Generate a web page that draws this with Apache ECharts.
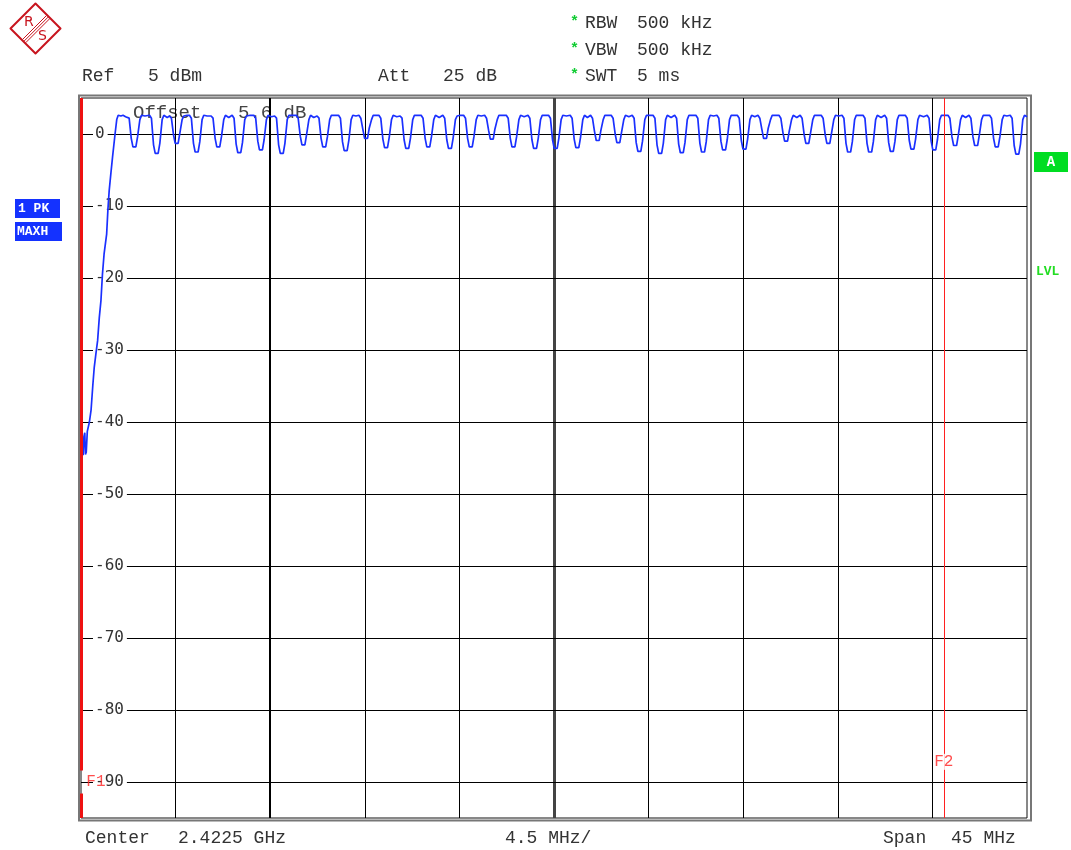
<!DOCTYPE html>
<html><head><meta charset="utf-8">
<script src="https://cdn.jsdelivr.net/npm/echarts@6.0.0/dist/echarts.min.js"></script>
<style>html,body{margin:0;padding:0;background:#fff}#c{width:1071px;height:850px}</style>
</head><body><div id="c"></div>
<script>
// ---- axis ranges & ticks (offset from 2.4000 GHz, MHz / dBm) ----
const xMinMHz = 0, xMaxMHz = 45;
const xGridTicks = [4.5, 9, 13.5, 18, 22.5, 27, 31.5, 36, 40.5];
const yMinDb = -95, yMaxDb = 5;
const yTicks = [-90, -80, -70, -60, -50, -40, -30, -20, -10, 0];
const markerF1 = 0;
const markerF2 = 41.04;
const labelF1 = [0.71, -90];
const labelF2 = [41.04, -87.2];
const f1LabelGap = [-91.6, -88.4];

// ---- trace 1 (PK, MAXH): rising band edge ----
const risingEdge = [
  [0.02,-41.2],[0.06,-43.8],[0.10,-44.6],[0.14,-42.0],[0.18,-41.5],[0.21,-44.5],[0.25,-44.2],
  [0.30,-41.3],[0.40,-40.0],[0.48,-38.3],[0.56,-35.0],[0.63,-32.4],[0.71,-30.5],[0.79,-28.7],
  [0.87,-25.5],[0.95,-23.1],[1.02,-19.5],[1.10,-16.6],[1.22,-13.9],[1.28,-10.5],[1.34,-7.9],
  [1.42,-5.5],[1.50,-3.2],[1.62,0.0],[1.70,2.0],[1.77,2.6],[1.90,2.5],[2.00,2.6],[2.12,2.4]
];
// ---- trace 1: hopping-channel comb (one notch per MHz) ----
const channelComb = [
  [2.20,2.6],[2.29,2.2],[2.39,-0.6],[2.47,-1.8],[2.61,-1.8],[2.69,-0.4],[2.80,2.0],[2.88,2.6],[3.04,2.5],
  [3.26,2.6],[3.35,2.2],[3.45,-1.5],[3.53,-2.7],[3.67,-2.7],[3.75,-1.3],[3.86,2.0],[3.94,2.6],[4.10,2.3],
  [4.21,2.5],[4.30,2.2],[4.40,-0.1],[4.48,-1.3],[4.62,-1.3],[4.70,0.1],[4.81,2.0],[4.89,2.5],[5.05,2.6],
  [5.16,2.6],[5.25,2.2],[5.35,-1.3],[5.43,-2.5],[5.57,-2.5],[5.65,-1.1],[5.76,2.0],[5.84,2.6],[6.00,2.5],
  [6.19,2.5],[6.28,2.2],[6.38,-0.6],[6.46,-1.8],[6.60,-1.8],[6.68,-0.4],[6.79,2.0],[6.87,2.6],[7.03,2.3],
  [7.19,2.6],[7.28,2.2],[7.38,-1.4],[7.46,-2.6],[7.60,-2.6],[7.68,-1.2],[7.79,2.0],[7.87,2.5],[8.05,2.6],
  [8.22,2.6],[8.31,2.2],[8.41,-1.0],[8.49,-2.2],[8.63,-2.2],[8.71,-0.8],[8.82,2.0],[8.90,2.6],[9.06,2.4],
  [9.21,2.5],[9.30,2.2],[9.40,-1.5],[9.48,-2.7],[9.62,-2.7],[9.70,-1.3],[9.81,2.0],[9.89,2.6],[10.05,2.6],
  [10.24,2.6],[10.33,2.2],[10.43,-0.3],[10.51,-1.5],[10.65,-1.5],[10.73,-0.1],[10.84,2.0],[10.92,2.6],[11.07,2.3],
  [11.23,2.5],[11.32,2.2],[11.42,-0.6],[11.50,-1.8],[11.64,-1.8],[11.72,-0.4],[11.83,2.0],[11.91,2.6],[12.08,2.6],
  [12.25,2.6],[12.34,2.2],[12.44,-1.1],[12.52,-2.3],[12.66,-2.3],[12.74,-0.9],[12.85,2.0],[12.93,2.6],[13.08,2.5],
  [13.22,2.6],[13.31,2.2],[13.41,0.6],[13.49,-0.6],[13.63,-0.6],[13.71,0.8],[13.82,2.0],[13.90,2.6],[14.05,2.6],
  [14.17,2.6],[14.26,2.2],[14.36,-0.7],[14.44,-1.9],[14.58,-1.9],[14.66,-0.5],[14.77,2.0],[14.85,2.6],[15.02,2.4],
  [15.18,2.5],[15.27,2.2],[15.37,-0.8],[15.45,-2.0],[15.59,-2.0],[15.67,-0.6],[15.78,2.0],[15.86,2.6],[16.02,2.6],
  [16.18,2.6],[16.27,2.2],[16.37,-0.6],[16.45,-1.8],[16.59,-1.8],[16.67,-0.4],[16.78,2.0],[16.86,2.6],[17.04,2.3],
  [17.21,2.6],[17.30,2.2],[17.40,-0.8],[17.48,-2.0],[17.62,-2.0],[17.70,-0.6],[17.81,2.0],[17.89,2.5],[18.04,2.6],
  [18.20,2.6],[18.29,2.2],[18.39,-0.6],[18.47,-1.8],[18.61,-1.8],[18.69,-0.4],[18.80,2.0],[18.88,2.6],[19.04,2.5],
  [19.20,2.6],[19.29,2.2],[19.39,0.5],[19.47,-0.7],[19.61,-0.7],[19.69,0.7],[19.80,2.0],[19.88,2.6],[20.06,2.6],
  [20.23,2.6],[20.32,2.2],[20.42,-0.6],[20.50,-1.8],[20.64,-1.8],[20.72,-0.4],[20.83,2.0],[20.91,2.6],[21.08,2.4],
  [21.26,2.6],[21.35,2.2],[21.45,-0.8],[21.53,-2.0],[21.67,-2.0],[21.75,-0.6],[21.86,2.0],[21.94,2.6],[22.09,2.6],
  [22.24,2.6],[22.33,2.2],[22.43,-0.8],[22.51,-2.0],[22.65,-2.0],[22.73,-0.6],[22.84,2.0],[22.92,2.6],[23.09,2.5],
  [23.27,2.6],[23.36,2.2],[23.46,-0.7],[23.54,-1.9],[23.68,-1.9],[23.76,-0.5],[23.87,2.0],[23.95,2.6],[24.09,2.3],
  [24.24,2.6],[24.33,2.2],[24.43,0.3],[24.51,-0.9],[24.65,-0.9],[24.73,0.5],[24.84,2.0],[24.92,2.6],[25.07,2.6],
  [25.22,2.6],[25.31,2.2],[25.41,0.0],[25.49,-1.2],[25.63,-1.2],[25.71,0.2],[25.82,2.0],[25.90,2.6],[26.06,2.4],
  [26.22,2.6],[26.31,2.2],[26.41,-1.2],[26.49,-2.4],[26.63,-2.4],[26.71,-1.0],[26.82,2.0],[26.90,2.6],[27.06,2.6],
  [27.21,2.6],[27.30,2.2],[27.40,-1.5],[27.48,-2.7],[27.62,-2.7],[27.70,-1.3],[27.81,2.0],[27.89,2.6],[28.07,2.3],
  [28.24,2.6],[28.33,2.2],[28.43,-1.4],[28.51,-2.6],[28.65,-2.6],[28.73,-1.2],[28.84,2.0],[28.92,2.6],[29.09,2.6],
  [29.25,2.6],[29.34,2.2],[29.44,-1.3],[29.52,-2.5],[29.66,-2.5],[29.74,-1.1],[29.85,2.0],[29.93,2.6],[30.09,2.5],
  [30.25,2.6],[30.34,2.2],[30.44,-1.0],[30.52,-2.2],[30.66,-2.2],[30.74,-0.8],[30.85,2.0],[30.93,2.6],[31.07,2.6],
  [31.22,2.6],[31.31,2.2],[31.41,-0.9],[31.49,-2.1],[31.63,-2.1],[31.71,-0.7],[31.82,2.0],[31.90,2.6],[32.05,2.4],
  [32.20,2.6],[32.29,2.2],[32.39,0.6],[32.47,-0.6],[32.61,-0.6],[32.69,0.8],[32.80,2.0],[32.88,2.6],[33.04,2.6],
  [33.20,2.6],[33.29,2.2],[33.39,0.2],[33.47,-1.0],[33.61,-1.0],[33.69,0.4],[33.80,2.0],[33.88,2.6],[34.05,2.3],
  [34.21,2.6],[34.30,2.2],[34.40,-0.1],[34.48,-1.3],[34.62,-1.3],[34.70,0.1],[34.81,2.0],[34.89,2.6],[35.05,2.6],
  [35.21,2.6],[35.30,2.2],[35.40,-0.1],[35.48,-1.3],[35.62,-1.3],[35.70,0.1],[35.81,2.0],[35.89,2.6],[36.04,2.5],
  [36.20,2.6],[36.29,2.2],[36.39,-1.3],[36.47,-2.5],[36.61,-2.5],[36.69,-1.1],[36.80,2.0],[36.88,2.6],[37.04,2.6],
  [37.20,2.6],[37.29,2.2],[37.39,-1.3],[37.47,-2.5],[37.61,-2.5],[37.69,-1.1],[37.80,2.0],[37.88,2.6],[38.06,2.3],
  [38.23,2.6],[38.32,2.2],[38.42,-1.2],[38.50,-2.4],[38.64,-2.4],[38.72,-1.0],[38.83,2.0],[38.91,2.6],[39.06,2.6],
  [39.21,2.6],[39.30,2.2],[39.40,-0.9],[39.48,-2.1],[39.62,-2.1],[39.70,-0.7],[39.81,2.0],[39.89,2.6],[40.08,2.4],
  [40.25,2.6],[40.34,2.2],[40.44,-1.0],[40.52,-2.2],[40.66,-2.2],[40.74,-0.8],[40.85,2.0],[40.93,2.6],[41.08,2.6],
  [41.24,2.6],[41.33,2.2],[41.43,-0.4],[41.51,-1.6],[41.65,-1.6],[41.73,-0.2],[41.84,2.0],[41.92,2.6],[42.08,2.3],
  [42.24,2.6],[42.33,2.2],[42.43,-0.4],[42.51,-1.6],[42.65,-1.6],[42.73,-0.2],[42.84,2.0],[42.92,2.6],[43.06,2.6],
  [43.22,2.6],[43.31,2.2],[43.41,-0.6],[43.49,-1.8],[43.63,-1.8],[43.71,-0.4],[43.82,2.0],[43.90,2.6],[44.04,2.5],
  [44.20,2.6],[44.29,2.2],[44.39,-1.6],[44.47,-2.8],[44.61,-2.8],[44.69,-1.4],[44.80,2.0],[44.88,2.6],[45.00,2.4]
];

// ---- header / footer texts ----
const headerRef = ['Ref', '5 dBm'];
const headerAtt = ['Att', '25 dB'];
const bwLines = [['RBW', '500 kHz'], ['VBW', '500 kHz'], ['SWT', '5 ms']];
const offsetText = ['Offset', '5.6 dB'];
const footerCenter = ['Center', '2.4225 GHz'];
const footerDiv = '4.5 MHz/';
const footerSpan = ['Span', '45 MHz'];

const MONO = "'Liberation Mono', 'DejaVu Sans Mono', monospace";
const TXT = '#333';
function t(x, y, s, extra) {
  return Object.assign({ type: 'text', x: x, y: y, silent: true,
    style: Object.assign({ text: s, fill: TXT, font: '18px ' + MONO, textVerticalAlign: 'middle', textAlign: 'left' }, extra || {}) });
}
const RS_RED = '#c8141e';
const graphics = [
  // R&S logo
  { type: 'polygon', silent: true, shape: { points: [[35.5,3.5],[60.5,28.5],[35.5,53.5],[10.5,28.5]] },
    style: { fill: 'none', stroke: RS_RED, lineWidth: 2, lineJoin: 'round' } },
  { type: 'line', silent: true, shape: { x1: 46.5, y1: 15.5, x2: 22.5, y2: 39.5 }, style: { stroke: RS_RED, lineWidth: 1 } },
  { type: 'line', silent: true, shape: { x1: 48.1, y1: 17.1, x2: 24.1, y2: 41.1 }, style: { stroke: RS_RED, lineWidth: 1 } },
  { type: 'line', silent: true, shape: { x1: 49.7, y1: 18.7, x2: 25.7, y2: 42.7 }, style: { stroke: RS_RED, lineWidth: 1 } },
  t(24, 22, 'R', { fill: RS_RED, font: '14px "DejaVu Sans"' }),
  t(38, 36, 'S', { fill: RS_RED, font: '14px "DejaVu Sans"' }),
  // header
  t(82, 76, headerRef[0]), t(148, 76, headerRef[1]),
  t(378, 76, headerAtt[0]), t(443, 76, headerAtt[1]),
  t(570, 22, '*', { fill: '#11cc33', font: 'bold 15px ' + MONO }), t(585, 23, bwLines[0][0]), t(637, 23, bwLines[0][1]),
  t(570, 49, '*', { fill: '#11cc33', font: 'bold 15px ' + MONO }), t(585, 50, bwLines[1][0]), t(637, 50, bwLines[1][1]),
  t(570, 75, '*', { fill: '#11cc33', font: 'bold 15px ' + MONO }), t(585, 76, bwLines[2][0]), t(637, 76, bwLines[2][1]),
  // footer
  t(85, 838, footerCenter[0]), t(178, 838, footerCenter[1]),
  t(505, 838, footerDiv),
  t(883, 838, footerSpan[0]), t(951, 838, footerSpan[1]),
  // offset text in the plot
  t(133, 113, offsetText[0], { fill: '#444', font: '19px ' + MONO }),
  t(238, 113, offsetText[1], { fill: '#444', font: '19px ' + MONO }),
  // trace info boxes
  { type: 'rect', silent: true, shape: { x: 15, y: 199, width: 45, height: 19 }, style: { fill: '#1432ff' } },
  t(18, 209, '1 PK', { fill: '#fff', font: 'bold 13px ' + MONO }),
  { type: 'rect', silent: true, shape: { x: 15, y: 222, width: 47, height: 19 }, style: { fill: '#1432ff' } },
  t(17, 232, 'MAXH', { fill: '#fff', font: 'bold 13px ' + MONO }),
  { type: 'rect', silent: true, shape: { x: 1034, y: 152, width: 34, height: 20 }, style: { fill: '#00dd22' } },
  t(1051, 162, 'A', { fill: '#fff', font: 'bold 14px ' + MONO, textAlign: 'center' }),
  t(1036, 272, 'LVL', { fill: '#22dd22', font: 'bold 13px ' + MONO }),
  // outer frame
  { type: 'rect', silent: true, z: 10, shape: { x: 79, y: 95.5, width: 952, height: 725 }, style: { fill: 'none', stroke: '#777', lineWidth: 2 } }
];

const gridLines = xGridTicks.map(v => ({ xAxis: v, lineStyle: { width: v === 22.5 ? 3 : (v === 9 ? 2 : 1), color: v === 22.5 ? '#444' : '#000' } }))
  .concat(yTicks.map(v => ({ yAxis: v })));

const f1Style = { color: '#ee1111', width: 3, type: 'solid' };
const markerLines = [
  [ { coord: [markerF1, yMinDb], lineStyle: f1Style }, { coord: [markerF1, f1LabelGap[0]] } ],
  [ { coord: [markerF1, f1LabelGap[1]], lineStyle: f1Style }, { coord: [markerF1, yMaxDb] } ],
  { xAxis: markerF2, lineStyle: { color: '#ff2020', width: 1, type: 'solid' } }
];

const chart = echarts.init(document.getElementById('c'), null, { renderer: 'canvas' });
chart.setOption({
  animation: false,
  backgroundColor: '#fff',
  grid: { left: 81, top: 98, right: 44, bottom: 32, show: true, borderColor: '#111', borderWidth: 1 },
  xAxis: { type: 'value', min: xMinMHz, max: xMaxMHz, axisLabel: { show: false }, axisLine: { show: false },
    axisTick: { show: false }, splitLine: { show: false } },
  yAxis: { type: 'value', min: yMinDb, max: yMaxDb, z: 1,
    axisLine: { show: false }, axisTick: { show: false }, splitLine: { show: false },
    axisLabel: { inside: true, margin: 12, customValues: yTicks, color: '#333', fontFamily: "'DejaVu Sans Mono', monospace",
      fontSize: 16, backgroundColor: '#fff', padding: [1, 3, 0, 2], formatter: v => String(v) } },
  graphic: { elements: graphics },
  series: [
    { name: 'Trace 1', type: 'line', z: 3, data: risingEdge.concat(channelComb), showSymbol: false, symbol: 'none',
      lineStyle: { color: '#1a30ff', width: 1.7 }, silent: true,
      markLine: { z: 0, silent: true, symbol: ['none', 'none'], label: { show: false }, animation: false,
        lineStyle: { color: '#000', width: 1, type: 'solid' }, data: gridLines } },
    { name: 'Markers', type: 'scatter', z: 5, symbolSize: 0, silent: true,
      data: [ { value: labelF1, label: { formatter: 'F1', backgroundColor: 'transparent', padding: 0 } },
              { value: labelF2, label: { formatter: 'F2' } } ],
      label: { show: true, position: 'inside', color: '#ff2020', fontFamily: MONO, fontSize: 16, backgroundColor: '#fff', padding: [0, 1] },
      markLine: { z: 4, silent: true, symbol: ['none', 'none'], label: { show: false }, animation: false,
        data: markerLines } }
  ]
});
</script></body></html>
